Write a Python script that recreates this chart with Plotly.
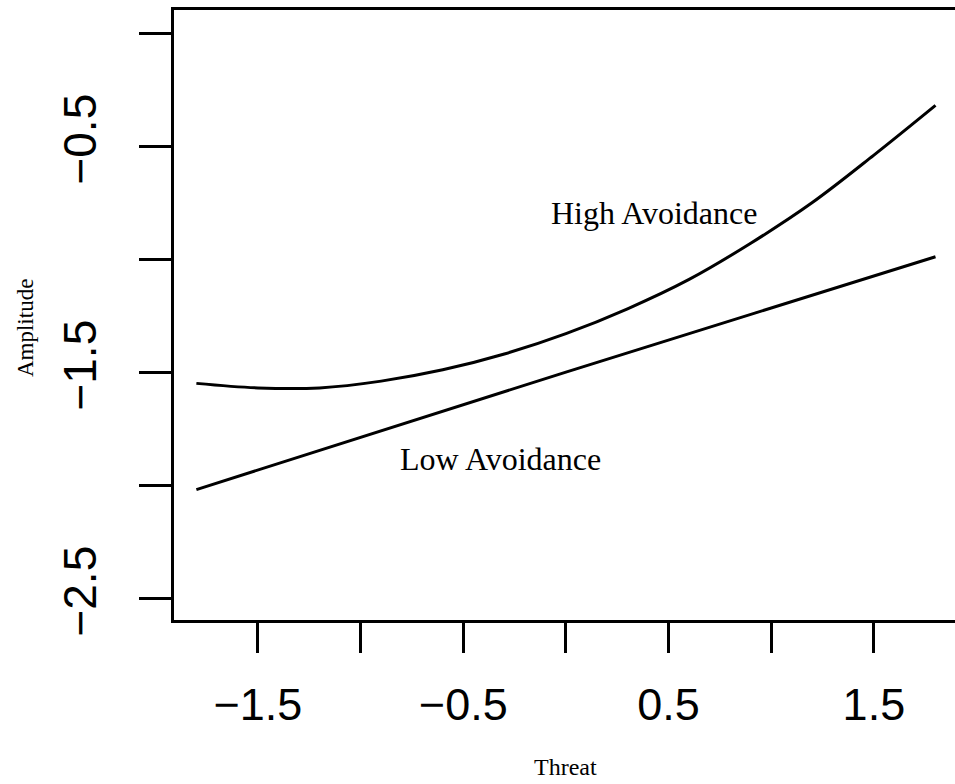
import plotly.graph_objects as go

# Data
high_x = [-1.8, -1.5, -1.2, -0.9, -0.6, -0.3, 0.0, 0.3, 0.6, 0.9, 1.2, 1.5, 1.8]
high_y = [-1.55, -1.57, -1.57, -1.54, -1.49, -1.42, -1.33, -1.22, -1.09, -0.93, -0.75, -0.54, -0.32]
low_x = [-1.8, 0.0, 1.8]
low_y = [-2.02, -1.50, -0.99]

x_tickvals = [-1.5, -1.0, -0.5, 0.0, 0.5, 1.0, 1.5]
x_ticktext = ["\u22121.5", "", "\u22120.5", "", "0.5", "", "1.5"]
y_tickvals = [-2.5, -2.0, -1.5, -1.0, -0.5, 0.0]
y_ticktext = ["\u22122.5", "", "\u22121.5", "", "\u22120.5", ""]

labels = ["High Avoidance", "Low Avoidance"]
label_x = [0.431, -0.321]
label_y = [-0.796, -1.885]

fig = go.Figure()
fig.add_trace(go.Scatter(x=high_x, y=high_y, mode="lines",
                         line=dict(color="black", width=3, shape="spline"),
                         name=labels[0], showlegend=False))
fig.add_trace(go.Scatter(x=low_x, y=low_y, mode="lines",
                         line=dict(color="black", width=3),
                         name=labels[1], showlegend=False))

for t, lx, ly in zip(labels, label_x, label_y):
    fig.add_annotation(x=lx, y=ly, xref="x", yref="y", text=t, showarrow=False,
                       font=dict(family="Liberation Serif", size=32, color="black"),
                       xanchor="center", yanchor="middle")

fig.add_annotation(x=0.0, y=-0.241, xref="x", yref="paper", text="Threat",
                   showarrow=False, xanchor="center", yanchor="middle",
                   font=dict(family="Liberation Serif", size=24, color="black"))
fig.add_annotation(x=-0.19, y=0.478, xref="paper", yref="paper", text="Amplitude",
                   showarrow=False, xanchor="center", yanchor="middle", textangle=-90,
                   font=dict(family="Liberation Serif", size=23, color="black"))

fig.update_layout(
    width=955, height=784,
    margin=dict(l=174, r=0, t=10, b=164),
    paper_bgcolor="white", plot_bgcolor="white",
    showlegend=False,
    xaxis=dict(range=[-1.909, 1.895], tickvals=x_tickvals, ticktext=x_ticktext,
               ticks="outside", ticklen=30, tickwidth=3, tickcolor="black",
               showline=True, linewidth=3, linecolor="black", mirror=True,
               showgrid=False, zeroline=False, ticklabelstandoff=13,
               tickfont=dict(family="Liberation Sans", size=45, color="black")),
    yaxis=dict(range=[-2.597, 0.102], tickvals=y_tickvals, ticktext=y_ticktext,
               ticks="outside", ticklen=32, tickwidth=3, tickcolor="black",
               showline=True, linewidth=3, linecolor="black",
               showgrid=False, zeroline=False, tickangle=-90, ticklabelstandoff=25,
               tickfont=dict(family="Liberation Sans", size=46, color="black")),
)

fig.write_html(
    "out.html",
    config={"displayModeBar": False},
    post_script="document.body.style.margin='0';"
                "document.body.style.overflow='hidden';"
                "document.documentElement.style.overflow='hidden';",
)
